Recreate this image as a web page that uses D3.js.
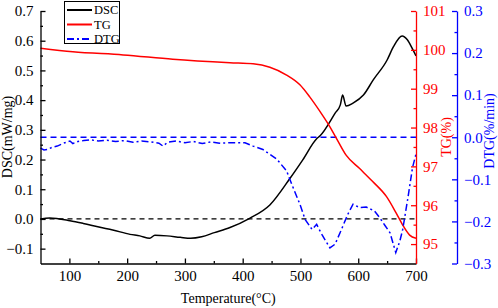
<!DOCTYPE html>
<html>
<head>
<meta charset="utf-8">
<script src="https://cdn.jsdelivr.net/npm/d3@7"></script>
<style>
body { margin:0; background:#fff; }
text { font-family:"Liberation Serif","Times New Roman",serif; }
.axis text { font-size:15px; }
</style>
</head>
<body>
<svg id="myGraph" width="498" height="308"></svg>
<script>
// 온도 (DSC)
var dscTemp = [50,66,101,124,153,175,205,222,239,248,269,292,310,329,351,378,412,447,482,504,528,534,560,569,573,579,591,609,626,650,661,676,685,693,700];
var dscValue = [0.000,0.003,-0.006,-0.015,-0.028,-0.037,-0.052,-0.057,-0.065,-0.055,-0.057,-0.062,-0.065,-0.060,-0.046,-0.029,0.002,0.047,0.137,0.199,0.270,0.280,0.356,0.384,0.417,0.380,0.390,0.417,0.468,0.535,0.580,0.616,0.603,0.576,0.549];

// TG
var tgTemp = [50,106,193,279,378,418,447,476,499,516,534,551,562,579,602,625,649,666,677,689,700];
var tgValue = [100.04,99.95,99.87,99.76,99.67,99.64,99.55,99.35,99.10,98.79,98.41,98.02,97.73,97.29,96.95,96.61,96.22,95.79,95.49,95.23,95.15];

// DTG
var dtgTemp = [50,56,62,70,79,90,101,106,115,125,136,150,165,180,195,210,225,240,255,262,270,285,300,315,330,345,360,378,383,404,418,435,459,476,485,499,508,520,528,537,551,560,571,582,591,602,614,628,637,646,655,665,672,677,686,694,700];
var dtgValue = [-0.026,-0.030,-0.029,-0.024,-0.021,-0.014,-0.009,-0.015,-0.010,-0.008,-0.006,-0.009,-0.007,-0.010,-0.008,-0.012,-0.009,-0.011,-0.014,-0.021,-0.012,-0.009,-0.013,-0.010,-0.015,-0.011,-0.014,-0.013,-0.013,-0.013,-0.021,-0.029,-0.052,-0.080,-0.112,-0.159,-0.195,-0.219,-0.207,-0.231,-0.263,-0.254,-0.219,-0.183,-0.159,-0.167,-0.166,-0.175,-0.191,-0.209,-0.227,-0.274,-0.247,-0.219,-0.144,-0.072,-0.040];

// 눈금 값
var xTicks = [100,200,300,400,500,600,700];
var dscTicks = [-0.1,0.0,0.1,0.2,0.3,0.4,0.5,0.6,0.7];
var tgTicks = [95,96,97,98,99,100,101];
var dtgTicks = [-0.3,-0.2,-0.1,0.0,0.1,0.2,0.3];
var legendNames = ["DSC","TG","DTG"];

var plotLeft = 40.5, plotRight = 416, plotTop = 11, plotBottom = 263.5;
var svg = d3.select("#myGraph");

var xScale = d3.scaleLinear().domain([50,700]).range([plotLeft,plotRight]);
var yDsc = d3.scaleLinear().domain([-0.15,0.7]).range([plotBottom,plotTop]);
var yTg = d3.scaleLinear().domain([94.5,101]).range([plotBottom,plotTop]);
var yDtg = d3.scaleLinear().domain([-0.3,0.3]).range([plotBottom,plotTop]);

function halves(arr, step){	// 보조 눈금 (주 눈금 사이)
	var out = [];
	for(var i=0;i<arr.length-1;i++) out.push(arr[i]+step/2);
	return out;
}

// 0 기준 점선
svg.append("line")
	.attr("x1",plotLeft).attr("x2",plotRight)
	.attr("y1",yDsc(0)).attr("y2",yDsc(0))
	.attr("stroke","#000").attr("stroke-width",1.2).attr("stroke-dasharray","5,4");
svg.append("line")
	.attr("x1",plotLeft).attr("x2",plotRight)
	.attr("y1",yDtg(0)).attr("y2",yDtg(0))
	.attr("stroke","#0000ff").attr("stroke-width",1.4).attr("stroke-dasharray","6,4");

function drawLine(temps, vals, yScale, color, dash, curve){
	var line = d3.line()
		.x(function(d){ return xScale(d[0]); })
		.y(function(d){ return yScale(d[1]); })
		.curve(curve);
	svg.append("path")
		.attr("d", line(d3.zip(temps, vals)))
		.attr("fill","none")
		.attr("stroke",color)
		.attr("stroke-width",1.5)
		.attr("stroke-dasharray",dash);
}
drawLine(dscTemp, dscValue, yDsc, "#000", null, d3.curveMonotoneX);
drawLine(tgTemp, tgValue, yTg, "#ff0000", null, d3.curveMonotoneX);
drawLine(dtgTemp, dtgValue, yDtg, "#0000ff", "7,3,2,3", d3.curveLinear);

// 축 그리기 (눈금은 안쪽)
function drawAxis(axisFn, scale, ticks, fmt, minor, color, transform){
	var g = svg.append("g").attr("class","axis").attr("transform",transform);
	g.call(axisFn(scale).tickValues(ticks).tickFormat(fmt)
		.tickSizeInner(-5).tickSizeOuter(0).tickPadding(7));
	g.selectAll("path,line").attr("stroke",color).attr("stroke-width",1.3);
	g.selectAll("text").attr("fill",color);
	g.attr("font-family",null).attr("font-size",null);
	var m = svg.append("g").attr("transform",transform);
	m.call(axisFn(scale).tickValues(minor).tickFormat("")
		.tickSizeInner(-2.5).tickSizeOuter(0));
	m.select(".domain").remove();
	m.selectAll("line").attr("stroke",color).attr("stroke-width",1.3);
}
var fmt1 = d3.format(".1f");
drawAxis(d3.axisBottom, xScale, xTicks, function(d){ return d; }, halves(xTicks,100), "#000", "translate(0,"+plotBottom+")");
drawAxis(d3.axisLeft, yDsc, dscTicks, fmt1, halves(dscTicks,0.1), "#000", "translate("+plotLeft+",0)");
drawAxis(d3.axisRight, yTg, tgTicks, function(d){ return d; }, halves(tgTicks,1), "#ff0000", "translate("+plotRight+",0)");
drawAxis(d3.axisRight, yDtg, dtgTicks, fmt1, halves(dtgTicks,0.1), "#0000ff", "translate(457,0)");

// 축 제목
svg.append("text").attr("x",(plotLeft+plotRight)/2).attr("y",303)
	.attr("text-anchor","middle").attr("font-size",14).text("Temperature(°C)");
svg.append("text").attr("transform","translate(12,137) rotate(-90)")
	.attr("text-anchor","middle").attr("font-size",14).text("DSC(mW/mg)");
svg.append("text").attr("transform","translate(451,137) rotate(-90)")
	.attr("text-anchor","middle").attr("font-size",14).attr("fill","#ff0000").text("TG(%)");
svg.append("text").attr("transform","translate(494,131) rotate(-90)")
	.attr("text-anchor","middle").attr("font-size",14).attr("fill","#0000ff").text("DTG(%/min)");

// 범례
var legend = svg.append("g");
legend.append("rect").attr("x",64.5).attr("y",1.5).attr("width",55).attr("height",42)
	.attr("fill","#fff").attr("stroke","#000").attr("stroke-width",1);
var legColors = ["#000","#ff0000","#0000ff"];
var legDash = [null,null,"7,3,2,3"];
legendNames.forEach(function(name,i){
	var y = 10 + i*14.5;
	legend.append("line").attr("x1",67).attr("x2",92).attr("y1",y).attr("y2",y)
		.attr("stroke",legColors[i]).attr("stroke-width",2).attr("stroke-dasharray",legDash[i]);
	legend.append("text").attr("x",94).attr("y",y+4).attr("font-size",12.5).text(name);
});
</script>
</body>
</html>
